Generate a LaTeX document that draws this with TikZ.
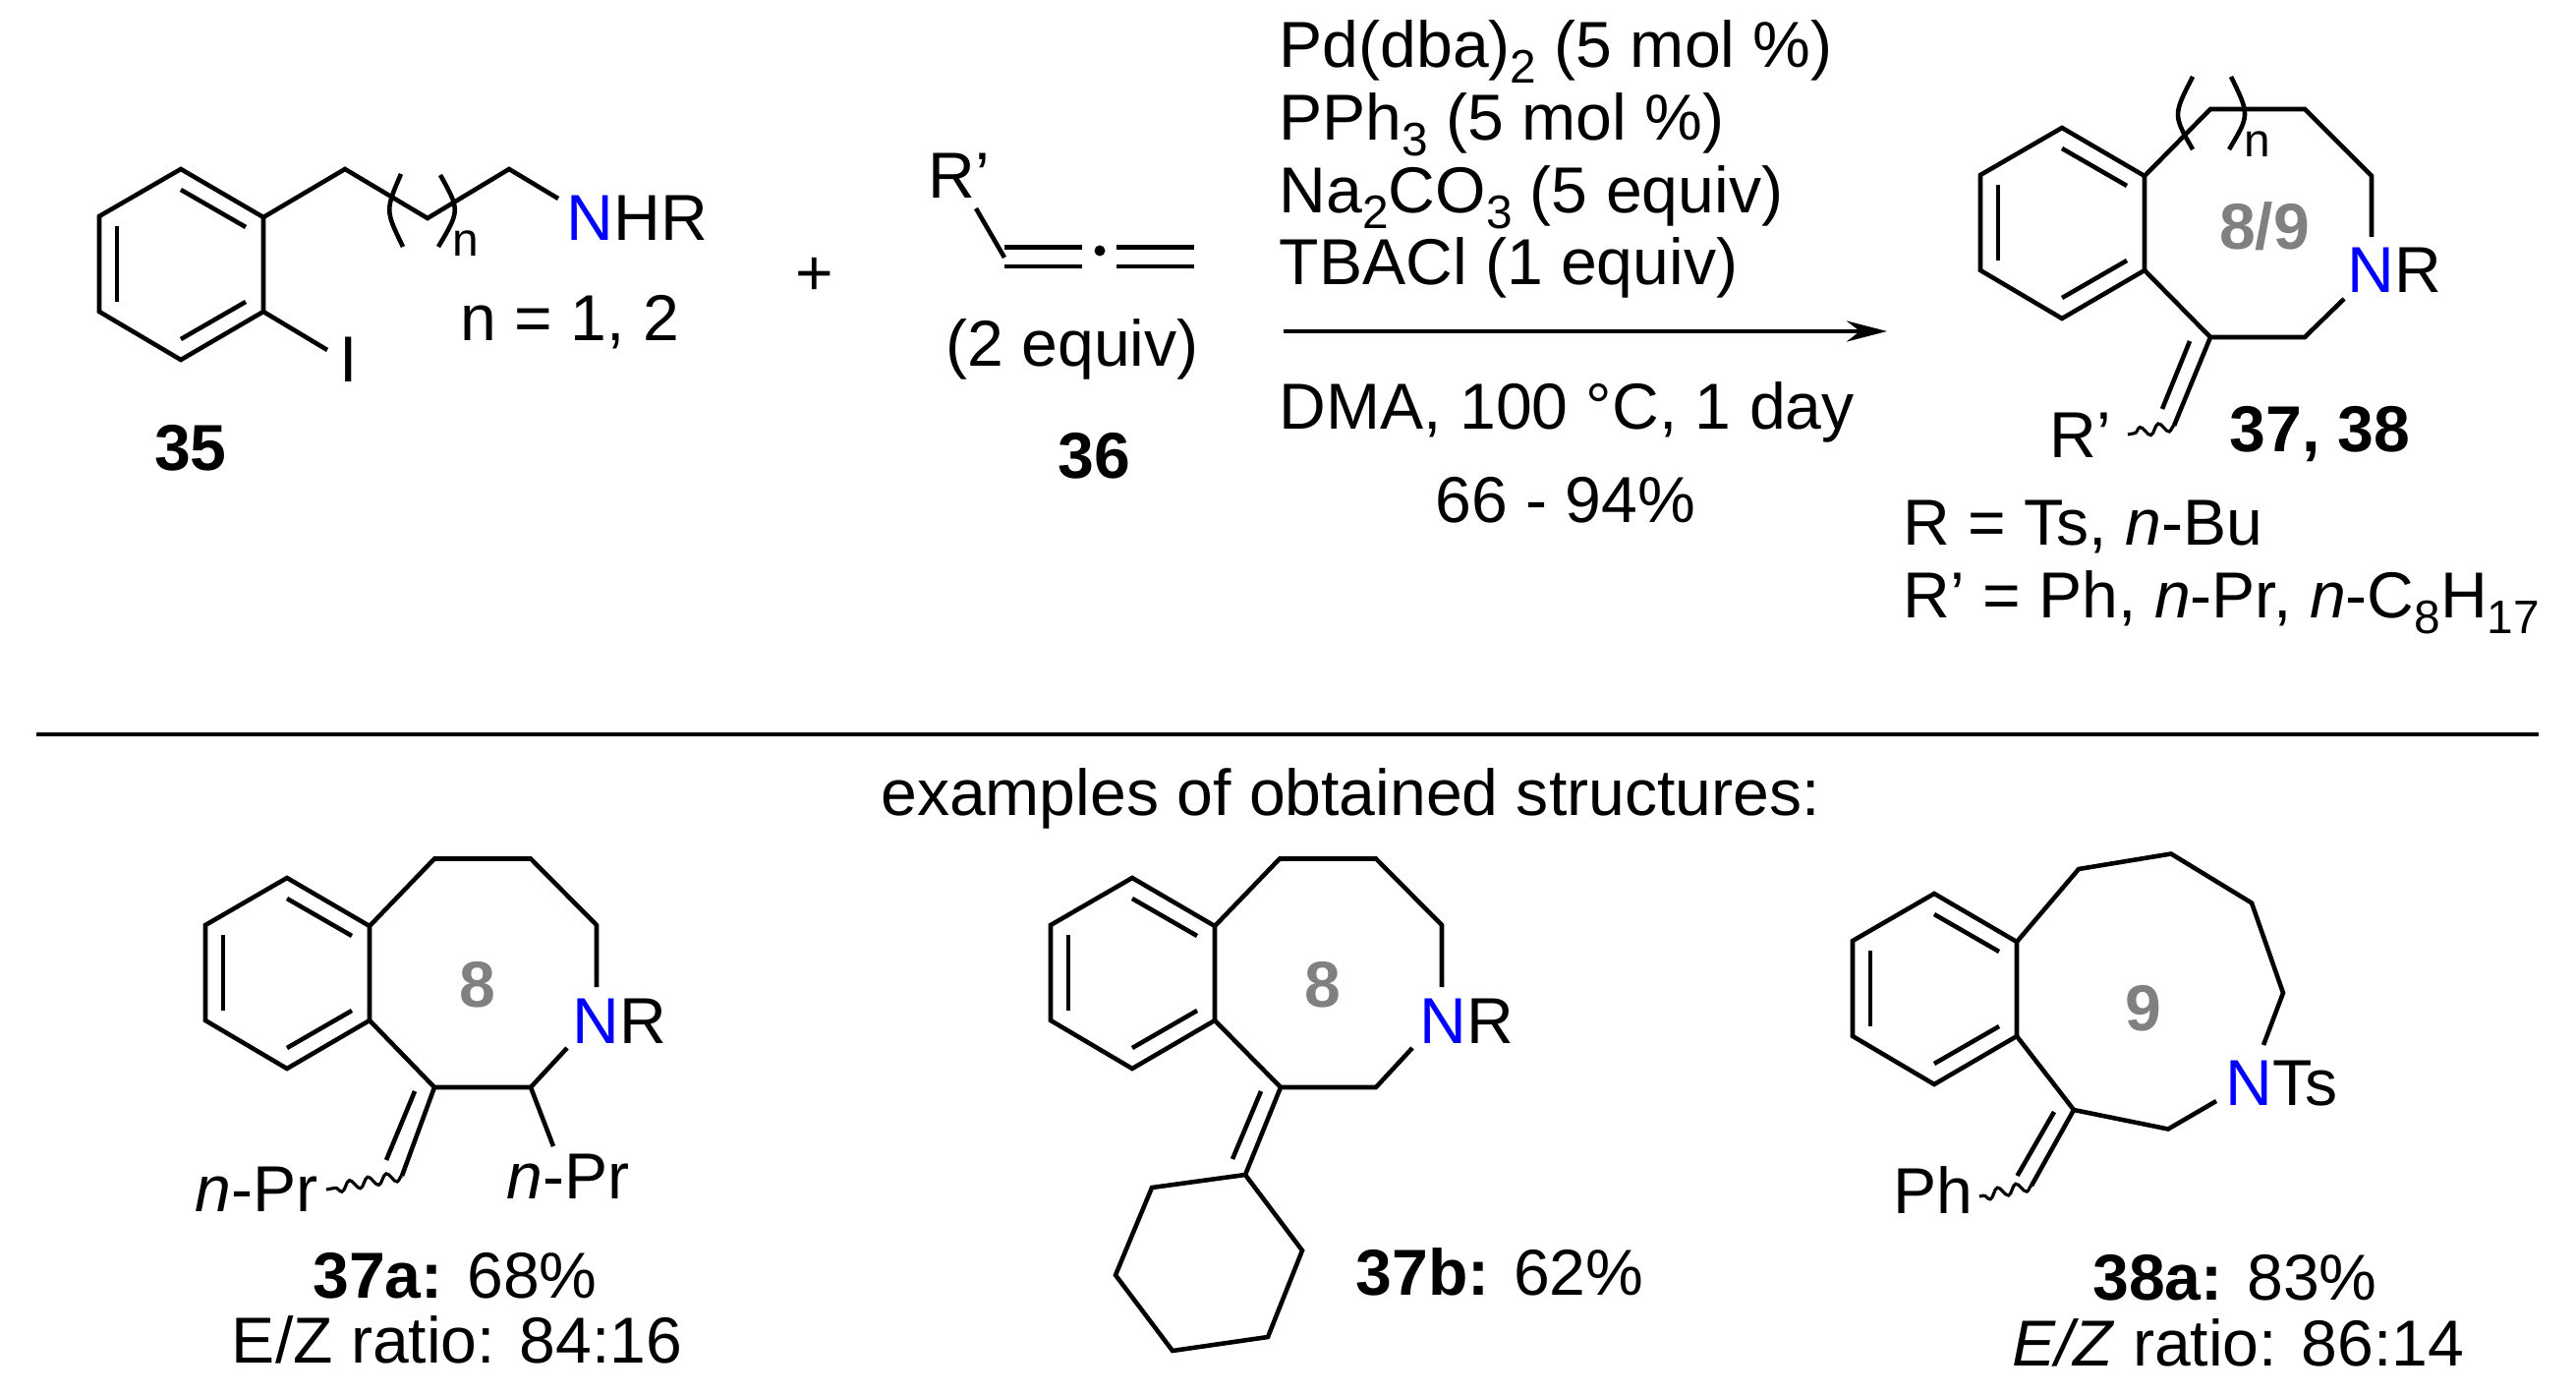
\documentclass[tikz,border=0pt]{standalone}
\usepackage{fontspec}
\setmainfont{Liberation Sans}
\usetikzlibrary{arrows.meta,decorations.pathmorphing}
\newcommand{\lowidx}[1]{\raisebox{-4.3pt}{\fontsize{13.6pt}{14pt}\selectfont #1}}
\newcommand{\blueN}{\textcolor{blue}{N}}
\tikzset{
	bond/.style={
		line width=1.3pt,
	},
	wavy/.style={
		line width=0.9pt,
		decorate,
		decoration={snake,segment length=0.19cm,amplitude=0.05cm},
	},
	txt/.style={
		inner sep=0pt,
		anchor=base west,
		font=\fontsize{18.8pt}{22pt}\selectfont,
	},
	ctr/.style={
		txt,
		anchor=base,
	},
	ringsize/.style={
		ctr,
		text=gray,
		font=\fontsize{18.8pt}{22pt}\selectfont\bfseries,
	},
	arene/.pic={
		\coordinate (-top) at (0,0);
		\coordinate (-ur) at (84,49);
		\coordinate (-lr) at (84,145);
		\draw[bond] (-top) -- (-ur) -- (-lr) -- (0,194) -- (-83,145) -- (-83,48) -- cycle;
		\draw[bond] (0,21) -- (66,59);
		\draw[bond] (66,135) -- (0,173);
		\draw[bond] (-65,58) -- (-65,135);
	},
}

\begin{document}
\begin{tikzpicture}[x=0.01cm,y=-0.01cm]
	\useasboundingbox (0,0) rectangle (2621,1419);

	% iodoarene 35
	\pic (reag) at (184,172) {arene};
	\coordinate (chainA) at (351,172);
	\coordinate (chainB) at (435,222);
	\coordinate (chainC) at (518,172);
	\coordinate (chainN) at (568,202);
	\coordinate (iodo) at (333,356);
	\draw[bond] (reag-ur) -- (chainA) -- (chainB) -- (chainC) -- (chainN);
	\draw[bond] (reag-lr) -- (iodo);
	\draw[bond] (408,177) .. controls (392,214) .. (410,251);
	\draw[bond] (448,178) .. controls (468,214) .. (446,251);
	\node[txt] (idxA) at (460,261) {\fontsize{13.6pt}{14pt}\selectfont n};
	\node[txt] (nhr) at (576,245) {\blueN HR};
	\node[txt] (iodine) at (345,389) {I};
	\node[txt] (nval) at (468,347) {n = 1, 2};
	\node[ctr] (lblA) at (194,479) {\textbf{35}};
	\node[ctr] (plus) at (829,301) {+};

	% allene 36
	\node[txt] (rprime) at (944,202) {R’};
	\coordinate (alleneR) at (993,212);
	\coordinate (alleneC) at (1022,262);
	\fill (1119,255) circle (5.5);
	\draw[bond] (alleneR) -- (alleneC);
	\draw[bond] (1022,251.5) -- (1101,251.5);
	\draw[bond] (1022,271) -- (1101,271);
	\draw[bond] (1136,251.5) -- (1215,251.5);
	\draw[bond] (1136,271) -- (1215,271);
	\node[ctr] (equiv) at (1091,373) {(2 equiv)};
	\node[ctr] (lblB) at (1113,487) {\textbf{36}};

	% conditions
	\node[txt] (condA) at (1301,69) {Pd(dba)\lowidx{2} (5 mol \%)};
	\node[txt] (condB) at (1301,143) {PPh\lowidx{3} (5 mol \%)};
	\node[txt] (condC) at (1301,217) {Na\lowidx{2}CO\lowidx{3} (5 equiv)};
	\node[txt] (condD) at (1301,290) {TBACl (1 equiv)};
	\coordinate (arrowS) at (1306,337);
	\coordinate (arrowE) at (1920,337);
	\draw[bond,-{Stealth[length=4.1mm,width=2.1mm]}] (arrowS) -- (arrowE);
	\node[txt] (condE) at (1301,437) {DMA, 100 °C, 1 day};
	\node[ctr] (yield) at (1593,532) {66 - 94\%};

	% general product 37, 38
	\pic (prod) at (2098,130) {arene};
	\coordinate (prodA) at (2249,111);
	\coordinate (prodB) at (2345,111);
	\coordinate (prodC) at (2413,179);
	\coordinate (prodD) at (2413,241);
	\coordinate (prodE) at (2385,304);
	\coordinate (prodF) at (2345,343);
	\coordinate (prodG) at (2249,343);
	\coordinate (prodH) at (2212,433);
	\draw[bond] (prod-ur) -- (prodA) -- (prodB) -- (prodC) -- (prodD);
	\draw[bond] (prodE) -- (prodF) -- (prodG) -- (prod-lr);
	\draw[bond] (prodG) -- (prodH);
	\draw[bond] (2228,347) -- (2200,416);
	\draw[wavy] (prodH) -- (2165,442);
	\draw[bond] (2231,78) .. controls (2211,117) .. (2231,152);
	\draw[bond] (2270,78) .. controls (2289,117) .. (2268,152);
	\node[txt] (idxB) at (2283,160) {\fontsize{13.6pt}{14pt}\selectfont n};
	\node[ringsize] (sizeA) at (2304,254) {8/9};
	\node[txt] (prodN) at (2388,298) {\blueN R};
	\node[txt] (prodR) at (2085,466) {R’};
	\node[txt] (lblC) at (2268,460) {\textbf{37, 38}};
	\node[txt] (defA) at (1936,555) {R = Ts, \textit{n}-Bu};
	\node[txt] (defB) at (1936,629) {R’ = Ph, \textit{n}-Pr, \textit{n}-C\lowidx{8}H\lowidx{17}};

	% separator
	\coordinate (sepL) at (37,747);
	\coordinate (sepR) at (2583,747);
	\draw[bond] (sepL) -- (sepR);
	\node[ctr] (examples) at (1374,829) {examples of obtained structures:};

	% example 37a
	\pic (exa) at (292,893) {arene};
	\coordinate (exaA) at (442,873.5);
	\coordinate (exaB) at (540,873.5);
	\coordinate (exaC) at (607,941);
	\coordinate (exaD) at (607,1004);
	\coordinate (exaE) at (577,1066);
	\coordinate (exaF) at (540,1106);
	\coordinate (exaG) at (442,1106);
	\coordinate (exaH) at (409,1196);
	\coordinate (exaI) at (563,1166);
	\draw[bond] (exa-ur) -- (exaA) -- (exaB) -- (exaC) -- (exaD);
	\draw[bond] (exaE) -- (exaF) -- (exaG) -- (exa-lr);
	\draw[bond] (exaG) -- (exaH);
	\draw[bond] (422,1110) -- (393,1180);
	\draw[bond] (exaF) -- (exaI);
	\draw[wavy] (exaH) -- (332,1210);
	\node[ringsize] (sizeB) at (486,1024) {8};
	\node[txt] (exaN) at (582,1061) {\blueN R};
	\node[txt] (exaPrA) at (198,1232) {\textit{n}-Pr};
	\node[txt] (exaPrB) at (515,1219) {\textit{n}-Pr};
	\node[ctr] (lblD) at (463,1320) {\textbf{37a:} 68\%};
	\node[ctr] (ratioA) at (465,1386) {E/Z ratio: 84:16};

	% example 37b
	\pic (exb) at (1152,893) {arene};
	\coordinate (exbA) at (1302,873.5);
	\coordinate (exbB) at (1400,873.5);
	\coordinate (exbC) at (1467,941);
	\coordinate (exbD) at (1467,1004);
	\coordinate (exbE) at (1437,1066);
	\coordinate (exbF) at (1400,1106);
	\coordinate (exbG) at (1303,1106);
	\coordinate (cyA) at (1267,1195);
	\coordinate (cyB) at (1172,1208);
	\coordinate (cyC) at (1135,1297);
	\coordinate (cyD) at (1193,1374);
	\coordinate (cyE) at (1290,1360);
	\coordinate (cyF) at (1325,1272);
	\draw[bond] (exb-ur) -- (exbA) -- (exbB) -- (exbC) -- (exbD);
	\draw[bond] (exbE) -- (exbF) -- (exbG) -- (exb-lr);
	\draw[bond] (exbG) -- (cyA);
	\draw[bond] (1283,1110) -- (1254,1179);
	\draw[bond] (cyA) -- (cyB) -- (cyC) -- (cyD) -- (cyE) -- (cyF) -- cycle;
	\node[ringsize] (sizeC) at (1346,1024) {8};
	\node[txt] (exbN) at (1444,1061) {\blueN R};
	\node[txt] (lblE) at (1379,1317) {\textbf{37b:} 62\%};

	% example 38a
	\pic (exc) at (1968,909) {arene};
	\coordinate (excA) at (2115,884);
	\coordinate (excB) at (2209,868.5);
	\coordinate (excC) at (2291,918.5);
	\coordinate (excD) at (2323,1010);
	\coordinate (excE) at (2303,1063);
	\coordinate (excF) at (2255,1120);
	\coordinate (excG) at (2206,1148.5);
	\coordinate (excH) at (2110,1129);
	\coordinate (excI) at (2067,1206);
	\draw[bond] (exc-ur) -- (excA) -- (excB) -- (excC) -- (excD) -- (excE);
	\draw[bond] (excF) -- (excG) -- (excH) -- (exc-lr);
	\draw[bond] (excH) -- (excI);
	\draw[bond] (2090,1131) -- (2052.5,1196);
	\draw[wavy] (excI) -- (2014,1217);
	\node[ringsize] (sizeD) at (2181,1048) {9};
	\node[txt] (excN) at (2264,1124) {\blueN Ts};
	\node[txt] (excPh) at (1926,1234) {Ph};
	\node[ctr] (lblF) at (2274,1322) {\textbf{38a:} 83\%};
	\node[ctr] (ratioB) at (2277,1389) {\textit{E/Z} ratio: 86:14};
\end{tikzpicture}
\end{document}
